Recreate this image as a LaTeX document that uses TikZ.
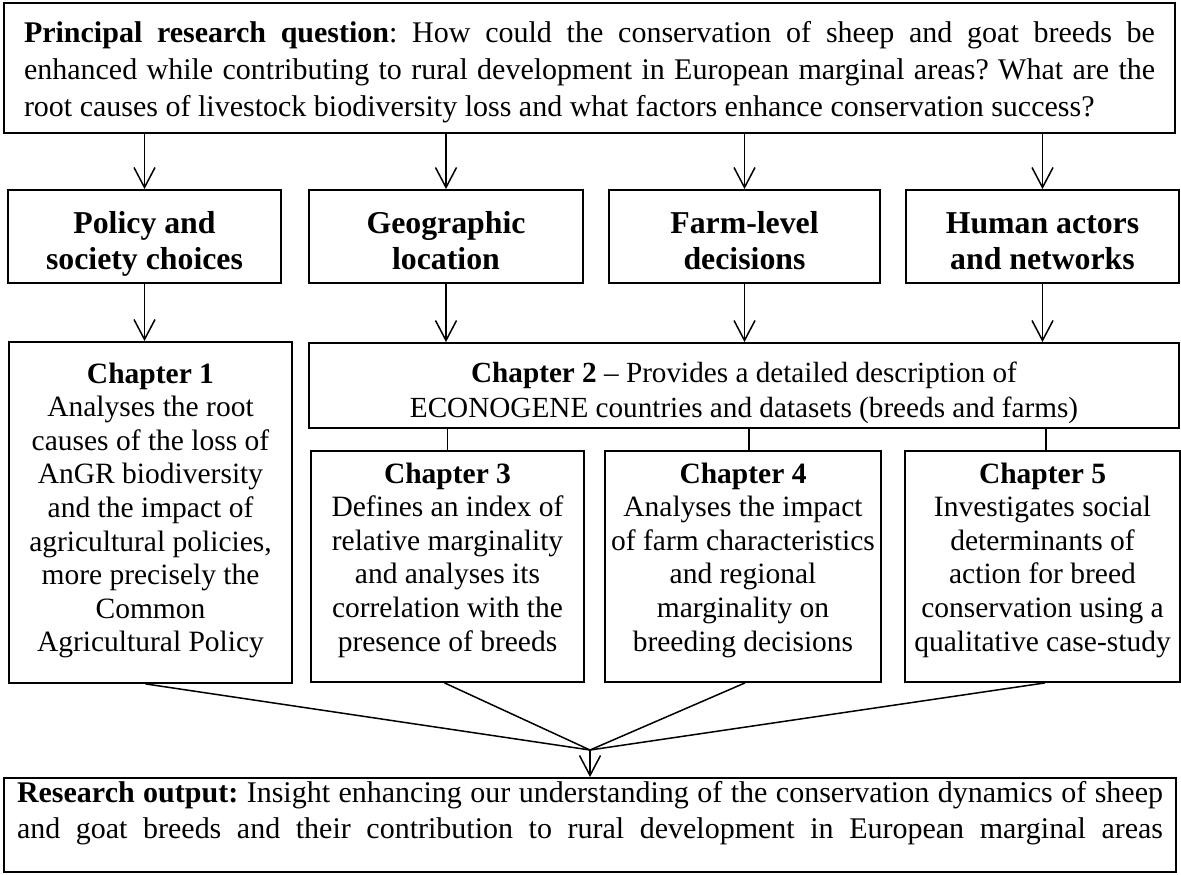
\documentclass[tikz,border=0pt]{standalone}
\usepackage{fontspec}
\setmainfont{Liberation Serif}
\usetikzlibrary{arrows.meta}
\newcommand{\tabtxt}[1]{\begin{tabular}[t]{@{}c@{}}#1\end{tabular}}
\frenchspacing
\begin{document}
\begin{tikzpicture}[x=1pt,y=-1pt,
  box/.style={draw, line width=1.8pt, inner sep=0pt, text height=0pt},
  fq/.style={font=\fontsize{30pt}{36.7pt}\selectfont},
  fp/.style={font=\fontsize{31.8pt}{36.7pt}\selectfont\bfseries},
  fch/.style={font=\fontsize{29.5pt}{33.6pt}\selectfont},
  arr/.style={line width=1.5pt, -{Straight Barb[length=20pt,width=21pt]}},
  con/.style={line width=1.5pt}]
\useasboundingbox (0,0) rectangle (1181,875);
% top question
\node[box,fq,minimum width=1171pt,minimum height=130pt,text depth=50pt] (q) at (589.5,68) {\tabtxt{%
\makebox[1131pt][s]{\textbf{Principal research question}: How could the conservation of sheep and goat breeds be}\\
\makebox[1131pt][s]{enhanced while contributing to rural development in European marginal areas? What are the}\\
\makebox[1131pt][l]{root causes of livestock biodiversity loss and what factors enhance conservation success?}}};
% row 2
\tikzset{prow/.style={box,fp,minimum height=93pt,text depth=7pt}}
\node[prow,minimum width=273pt] (p1) at (144.5,236.5) {\tabtxt{Policy and\\society choices}};
\node[prow,minimum width=274pt] (p2) at (446,236.5) {\tabtxt{Geographic\\location}};
\node[prow,minimum width=271pt] (p3) at (744.5,236.5) {\tabtxt{Farm-level\\decisions}};
\node[prow,minimum width=273pt] (p4) at (1042.5,236.5) {\tabtxt{Human actors\\and networks}};
% chapters
\node[box,fch,minimum width=283pt,minimum height=341pt,text depth=259pt] (c1) at (150.5,512.5) {\tabtxt{\textbf{Chapter 1}\\Analyses the root\\causes of the loss of\\AnGR biodiversity\\and the impact of\\agricultural policies,\\more precisely the\\Common\\Agricultural Policy}};
\node[box,font=\fontsize{29.2pt}{35pt}\selectfont,minimum width=870pt,minimum height=85pt,text depth=7pt] (c2) at (744,385.5) {\tabtxt{\textbf{Chapter 2} – Provides a detailed description of\\ECONOGENE countries and datasets (breeds and farms)}};
\tikzset{crow/.style={box,fch,minimum height=231pt,text depth=167pt}}
\node[crow,minimum width=273pt] (c3) at (447.5,566.5) {\tabtxt{\textbf{Chapter 3}\\Defines an index of\\relative marginality\\and analyses its\\correlation with the\\presence of breeds}};
\node[crow,minimum width=276pt] (c4) at (743,566.5) {\tabtxt{\textbf{Chapter 4}\\Analyses the impact\\of farm characteristics\\and regional\\marginality on\\breeding decisions}};
\node[crow,minimum width=275pt] (c5) at (1042.5,566.5) {\tabtxt{\textbf{Chapter 5}\\Investigates social\\determinants of\\action for breed\\conservation using a\\qualitative case-study}};
% output
\node[box,fq,minimum width=1172pt,minimum height=94pt,text depth=46pt] (o) at (590,825) {\tabtxt{%
\makebox[1146pt][s]{\textbf{Research output:} Insight enhancing our understanding of the conservation dynamics of sheep}\\
\makebox[1146pt][s]{and goat breeds and their contribution to rural development in European marginal areas}}};
\coordinate (m) at (590,750);
% connectors
\foreach \p in {p1,p2,p3,p4} \draw[arr] (q.south -| \p.north) -- (\p.north);
\draw[arr] (p1.south) -- (p1.south |- c1.north);
\foreach \p in {p2,p3,p4} \draw[arr] (\p.south) -- (\p.south |- c2.north);
\draw[con] (c3.north |- c2.south) -- (c3.north);
\draw[con] ([xshift=6pt]c4.north |- c2.south) -- ([xshift=6pt]c4.north);
\draw[con] ([xshift=3.5pt]c5.north |- c2.south) -- ([xshift=3.5pt]c5.north);
\draw[con] ([xshift=-5pt]c1.south) -- (m);
\draw[con] ([xshift=-3pt]c3.south) -- (m);
\draw[con] ([xshift=2pt]c4.south) -- (m);
\draw[con] ([xshift=2.5pt]c5.south) -- (m);
\draw[arr] (m) -- (o.north);
\end{tikzpicture}
\end{document}
